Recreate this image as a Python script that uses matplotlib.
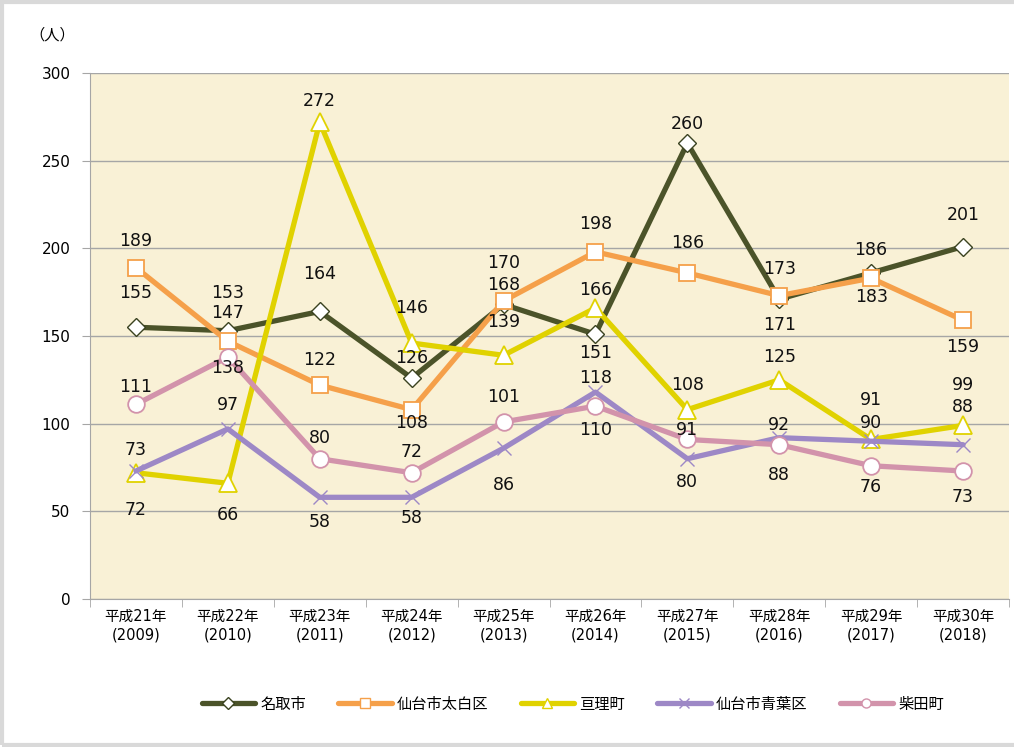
import matplotlib
matplotlib.use("Agg")
import matplotlib.pyplot as plt
from matplotlib.patches import Rectangle
from matplotlib.lines import Line2D

plt.rcParams['font.family'] = ['DejaVu Sans', 'Noto Sans CJK JP']

# data
years = ['平成21年\n(2009)', '平成22年\n(2010)', '平成23年\n(2011)', '平成24年\n(2012)',
         '平成25年\n(2013)', '平成26年\n(2014)', '平成27年\n(2015)', '平成28年\n(2016)',
         '平成29年\n(2017)', '平成30年\n(2018)']
natori = [155, 153, 164, 126, 168, 151, 260, 171, 186, 201]
taihaku = [189, 147, 122, 108, 170, 198, 186, 173, 183, 159]
watari = [72, 66, 272, 146, 139, 166, 108, 125, 91, 99]
aoba = [73, 97, 58, 58, 86, 118, 80, 92, 90, 88]
shibata = [111, 138, 80, 72, 101, 110, 91, 88, 76, 73]

# data label offsets in pixels (+ above, - below the point)
natori_off = [34, 38, 37, 20, 19, -19, 19, -26, 23, 32]
taihaku_off = [27, 28, 25, -13, 38, 28, 30, 27, -19, -27]
watari_off = [-37, -32, 21, 35, 33, 18, 25, 23, 39, 40]
aoba_off = [21, 24, -25, -21, -37, 14, -23, 13, 18, 38]
shibata_off = [17, -11, 21, 21, 25, -24, 9, -30, -21, -26]

series = [
    ('名取市', natori, natori_off, '#4b5329', 'D', 9, 1.0),
    ('仙台市太白区', taihaku, taihaku_off, '#f5a04a', 's', 12, 1.3),
    ('亘理町', watari, watari_off, '#e0d200', '^', 13, 1.3),
    ('仙台市青葉区', aoba, aoba_off, '#9d88c6', 'x', 10, 1.0),
    ('柴田町', shibata, shibata_off, '#d293ab', 'o', 12, 1.3),
]

fig = plt.figure(figsize=(10.14, 7.47), dpi=100)
fig.patches.append(Rectangle((0.002, 0.003), 1.2, 0.994, transform=fig.transFigure,
                             fill=False, edgecolor='#d9d9d9', linewidth=3))
ax = fig.add_axes([90 / 1014, 1 - 599 / 747, 919 / 1014, 526 / 747])
ax.set_facecolor('#f9f1d6')

x = list(range(len(years)))
handles = []
for name, vals, offs, col, mk, ms, mew in series:
    edge = '#3a4220' if mk == 'D' else col
    face = col if mk == 'x' else 'white'
    ax.plot(x, vals, color=col, lw=3.8, marker=mk, ms=ms, mew=mew,
            mfc=face, mec=edge, zorder=3, solid_capstyle='round')
    handles.append(Line2D([], [], color=col, lw=3.8, marker=mk, ms=6.5, mew=1,
                          mfc=face, mec=edge, solid_capstyle='round'))
    for i, (v, off) in enumerate(zip(vals, offs)):
        ax.annotate(str(v), (i, v), xytext=(0, off), textcoords='offset pixels',
                    ha='center', va='center', fontsize=12.5, color='#111111', zorder=5)

ax.set_xlim(-0.5, 9.5)
ax.set_ylim(0, 300)
ax.set_yticks(range(0, 301, 50))
ax.yaxis.grid(True, color='#a6a6a6', lw=1)
ax.set_axisbelow(True)
ax.set_xticks(x)
ax.set_xticklabels(years, fontsize=10.5, linespacing=1.3)
ax.set_xticks([i + 0.5 for i in range(-1, 10)], minor=True)
ax.tick_params(axis='x', which='major', length=0, pad=7)
ax.tick_params(axis='x', which='minor', length=6, color='#a6a6a6')
ax.tick_params(axis='y', length=6, color='#a6a6a6', labelsize=11, pad=8)
for s in ['top', 'right']:
    ax.spines[s].set_visible(False)
for s in ['left', 'bottom']:
    ax.spines[s].set_color('#a6a6a6')

fig.text(52 / 1014, 1 - 35 / 747, '（人）', fontsize=11, ha='center', va='center',
         family=['Noto Sans CJK JP'])

fig.legend(handles, [s[0] for s in series], loc='center',
           bbox_to_anchor=(0.565, 1 - 704 / 747), ncol=5,
           frameon=False, handlelength=3.5, columnspacing=2.1, handletextpad=0.35,
           prop={'family': ['Noto Sans CJK JP'], 'size': 11})

fig.savefig('out.png', dpi=100)
